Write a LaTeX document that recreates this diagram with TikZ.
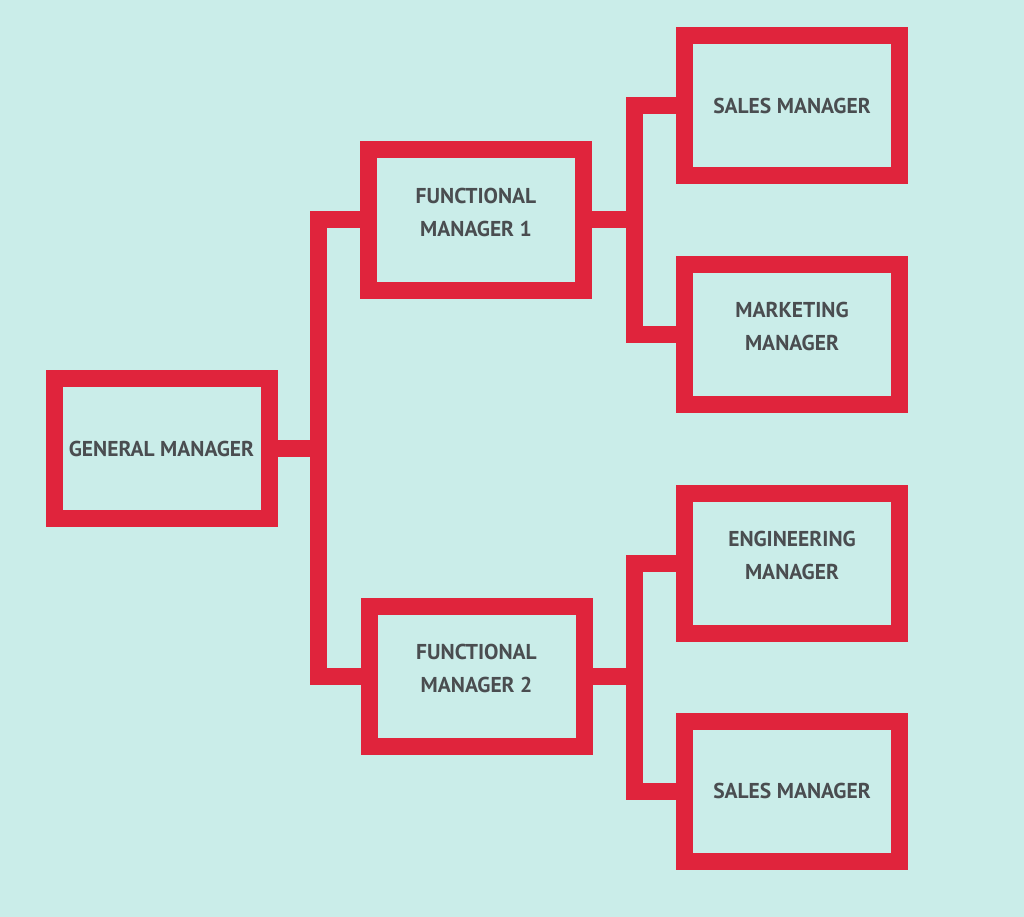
\documentclass[tikz,border=0pt]{standalone}
\usepackage{fontspec}
\setmainfont{PT Sans}
\definecolor{bgc}{HTML}{CAEDE9}
\definecolor{redc}{HTML}{E0243C}
\definecolor{txtc}{HTML}{4A4D50}
\newcommand{\twoline}[2]{\raisebox{1.6pt}[0pt][0pt]{\begin{tabular}{@{}c@{}}#1\\#2\end{tabular}}}
\begin{document}
\begin{tikzpicture}[x=1pt,y=-1pt,
  box/.style={draw=redc,line width=17pt,minimum width=215pt,minimum height=140pt,inner sep=0pt,outer sep=0pt,
    font=\fontsize{21.5}{33}\selectfont\bfseries,text=txtc,align=center},
  conn/.style={draw=redc,line width=17pt,line join=miter,line cap=butt}]
\fill[bgc] (0,0) rectangle (1024,917);
\useasboundingbox (0,0) rectangle (1024,917);
\node[box] (gm) at (161.5,448.5) {GENERAL MANAGER};
\node[box] (fm1) at (476,220) {\twoline{FUNCTIONAL}{MANAGER 1}};
\node[box] (fm2) at (476.5,676.5) {\twoline{FUNCTIONAL}{MANAGER 2}};
\node[box] (s1) at (792,105.5) {SALES MANAGER};
\node[box] (mk) at (792,334) {\twoline{MARKETING}{MANAGER}};
\node[box] (en) at (792,563) {\twoline{ENGINEERING}{MANAGER}};
\node[box] (s2) at (792,791) {SALES MANAGER};
\coordinate (j1) at (318.5,448.5);
\coordinate (j2) at (634.5,220);
\coordinate (j3) at (634.5,676.5);
\draw[conn] (gm.east) -- (j1);
\draw[conn] (fm1.west) -| (j1) |- (fm2.west);
\draw[conn] (fm1.east) -- (j2);
\draw[conn] (s1.west) -| (j2) |- (mk.west);
\draw[conn] (fm2.east) -- (j3);
\draw[conn] (en.west) -| (j3) |- (s2.west);
\end{tikzpicture}
\end{document}
